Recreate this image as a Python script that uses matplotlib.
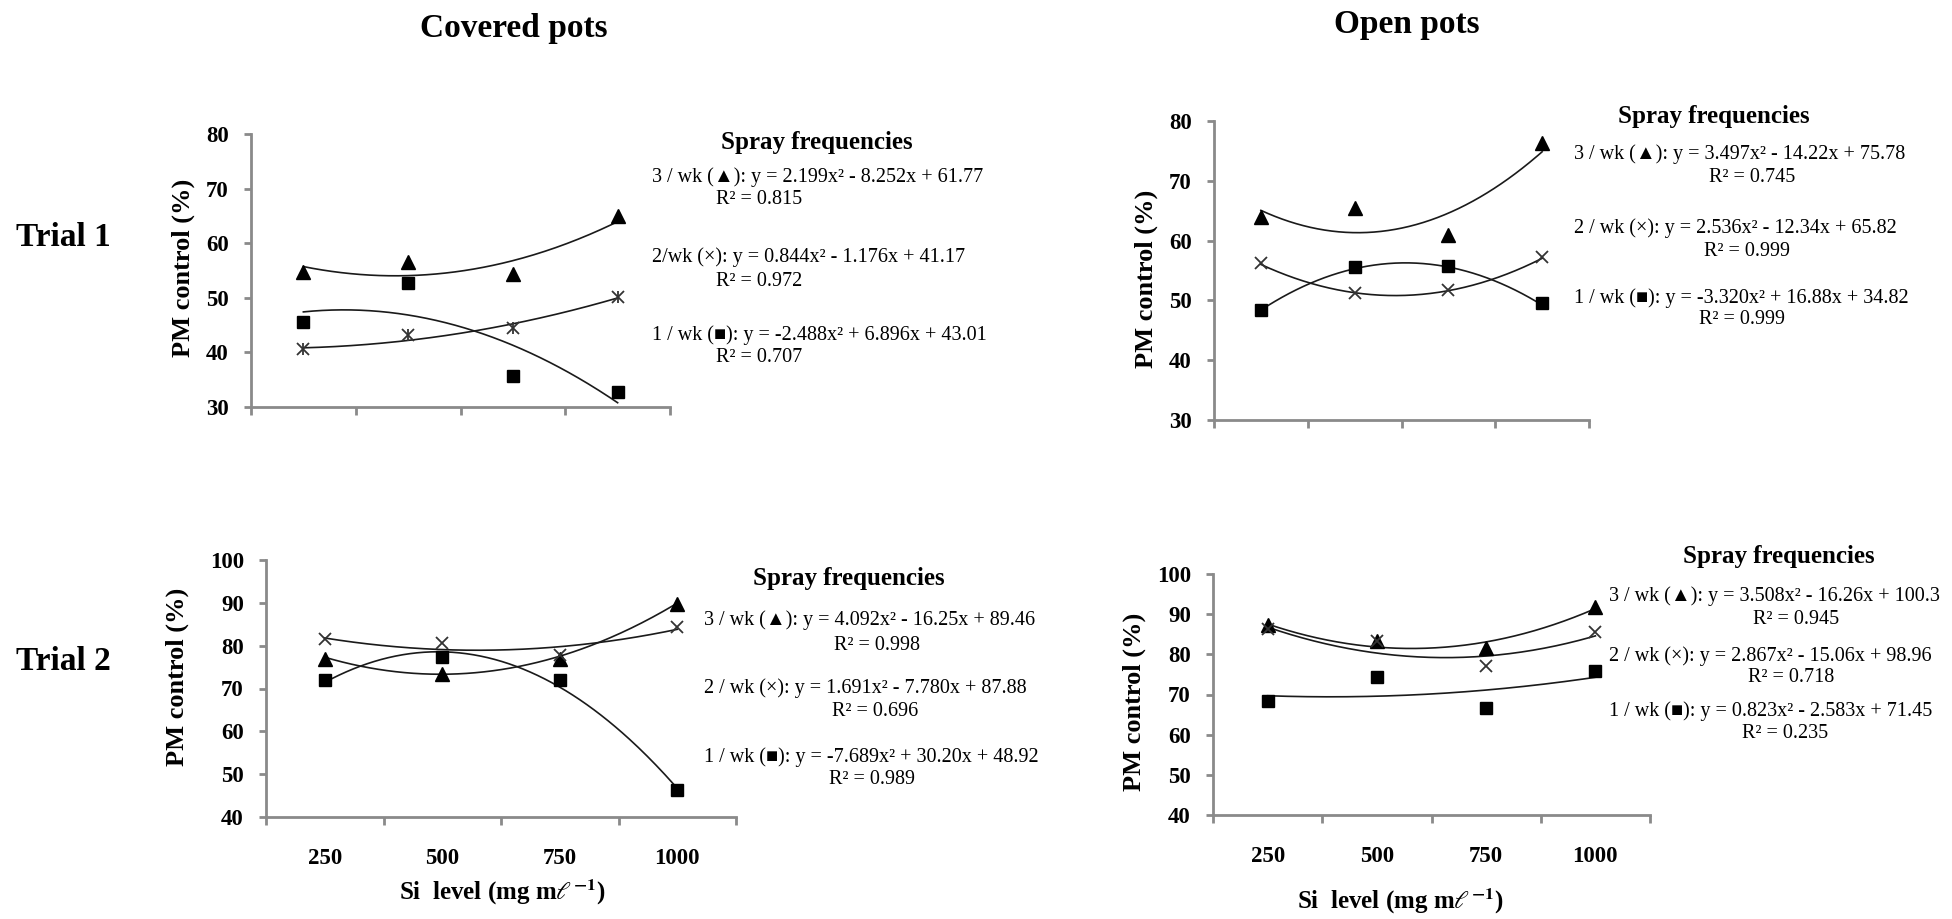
import numpy as np
import matplotlib.pyplot as plt

plt.rcParams['font.family'] = ['Liberation Serif', 'DejaVu Sans']
plt.rcParams['mathtext.fontset'] = 'stix'

W, H = 1952, 919

si_levels = ['250', '500', '750', '1000']
tags = ['3 / wk (▲)', '2 / wk (×)', '1 / wk (■)']
tags_cov1 = ['3 / wk (▲)', '2/wk (×)', '1 / wk (■)']

# PM control (%) per Si level; 3/wk, 2/wk, 1/wk
cov1_3wk = [54.8, 56.5, 54.4, 64.9]
cov1_2wk = [40.6, 43.2, 44.5, 50.2]
cov1_1wk = [45.6, 52.8, 35.6, 32.7]

open1_3wk = [64.0, 65.4, 60.9, 76.3]
open1_2wk = [56.2, 51.3, 51.8, 57.3]
open1_1wk = [48.4, 55.6, 55.7, 49.5]

cov2_3wk = [77.0, 73.5, 77.0, 89.7]
cov2_2wk = [81.5, 80.7, 77.8, 84.4]
cov2_1wk = [71.9, 77.4, 71.9, 46.3]

open2_3wk = [87.3, 83.2, 81.7, 91.8]
open2_2wk = [86.2, 83.3, 77.1, 85.6]
open2_1wk = [68.5, 74.4, 66.6, 75.9]

# quadratic trendlines y = a x^2 + b x + c, x = 1..4
cov1_fit = [[2.199, -8.252, 61.77], [0.844, -1.176, 41.17], [-2.488, 6.896, 43.01]]
cov1_r2 = [0.815, 0.972, 0.707]
open1_fit = [[3.497, -14.22, 75.78], [2.536, -12.34, 65.82], [-3.320, 16.88, 34.82]]
open1_r2 = [0.745, 0.999, 0.999]
cov2_fit = [[4.092, -16.25, 89.46], [1.691, -7.780, 87.88], [-7.689, 30.20, 48.92]]
cov2_r2 = [0.998, 0.696, 0.989]
open2_fit = [[3.508, -16.26, 100.3], [2.867, -15.06, 98.96], [0.823, -2.583, 71.45]]
open2_r2 = [0.945, 0.718, 0.235]

AXC = '#8a8a8a'

fig = plt.figure(figsize=(W / 100, H / 100), dpi=100)


def box(l, r, t, b):
    return [l / W, 1 - b / H, (r - l) / W, (b - t) / H]


def put(x, y, s, **kw):
    fig.text(x / W, 1 - y / H, s, **kw)


def fmt(v):
    v = abs(v)
    if v < 1:
        return f"{v:.3f}"
    return f"{v:#.4g}"


def equation(coef):
    a, b, c = coef
    sa = '-' if a < 0 else ''
    sb = '-' if b < 0 else '+'
    sc = '-' if c < 0 else '+'
    return f"y = {sa}{fmt(a)}x² {sb} {fmt(b)}x {sc} {fmt(c)}"


def panel(rect, ylim, series, fits, star=False, xlabels=False):
    ax = fig.add_axes(rect)
    xs = np.arange(1, 5)
    xf = np.linspace(1, 4, 200)
    for coef in fits:
        ax.plot(xf, np.polyval(coef, xf), color='#1a1a1a', lw=1.2, zorder=2)
    s3, s2, s1 = series
    ax.plot(xs, s3, ls='none', marker='^', ms=9.5, color='black', zorder=3)
    ax.plot(xs, s1, ls='none', marker='s', ms=9, color='black', zorder=3)
    ax.plot(xs, s2, ls='none', marker='x', ms=9, mew=1.3, color='#333333', zorder=3)
    if star:
        ax.plot(xs, s2, ls='none', marker='|', ms=9, mew=1.3, color='#333333', zorder=3)
    ax.set_xlim(0.5, 4.5)
    ax.set_ylim(*ylim)
    ax.set_xticks([0.5, 1.5, 2.5, 3.5, 4.5])
    ax.set_xticklabels([])
    ax.set_xticks(xs, minor=True)
    ax.set_xticklabels(si_levels if xlabels else [], minor=True,
                       fontsize=16.5, fontweight='bold')
    ax.tick_params(axis='x', which='major', length=6, width=2, color=AXC)
    ax.tick_params(axis='x', which='minor', length=0, pad=22)
    ax.set_yticks(np.arange(ylim[0], ylim[1] + 1, 10))
    ax.tick_params(axis='y', length=5, width=2, color=AXC, pad=11, labelsize=16.5)
    for lab in ax.get_yticklabels():
        lab.set_fontweight('bold')
    for side in ['top', 'right']:
        ax.spines[side].set_visible(False)
    for side in ['left', 'bottom']:
        ax.spines[side].set_color(AXC)
        ax.spines[side].set_linewidth(2)
    return ax


def notes(head, eq_x, eq_ys, r2_xs, r2_ys, labels, fits, r2s, r2_ha='center'):
    put(head[0], head[1], 'Spray frequencies', fontsize=18, fontweight='bold',
        ha='center', va='center')
    for i in range(3):
        put(eq_x, eq_ys[i], f"{labels[i]}: {equation(fits[i])}", fontsize=14.5,
            ha='left', va='center')
        put(r2_xs[i], r2_ys[i], f"R² = {r2s[i]:.3f}", fontsize=14.5,
            ha=r2_ha, va='center')


def ylabel(x, y):
    put(x, y, 'PM control (%)', fontsize=19, fontweight='bold', rotation=90,
        ha='center', va='center')


# Trial 1
panel(box(251, 670, 134, 407), (30, 80), [cov1_3wk, cov1_2wk, cov1_1wk], cov1_fit, star=True)
panel(box(1214, 1589, 121, 420), (30, 80), [open1_3wk, open1_2wk, open1_1wk], open1_fit)
# Trial 2
panel(box(266, 736, 560, 817), (40, 100), [cov2_3wk, cov2_2wk, cov2_1wk], cov2_fit, xlabels=True)
panel(box(1213, 1650, 574, 815), (40, 100), [open2_3wk, open2_2wk, open2_1wk], open2_fit, xlabels=True)

notes((817, 142), 652, [177, 257, 335], [716] * 3, [199, 281, 357],
      tags_cov1, cov1_fit, cov1_r2, r2_ha='left')
notes((1714, 116), 1574, [154, 228, 298], [1752, 1747, 1742], [177, 252, 320],
      tags, open1_fit, open1_r2)
notes((849, 579), 704, [620, 688, 757], [877, 875, 872], [646, 711, 780],
      tags, cov2_fit, cov2_r2)
notes((1779, 556), 1609, [596, 656, 711], [1796, 1791, 1785], [619, 678, 733],
      tags, open2_fit, open2_r2)

ylabel(183, 268)
ylabel(1146, 279)
ylabel(177, 677)
ylabel(1134, 702)

xlab = r"Si  level (mg m$\ell^{\mathbf{-1}}$)"
put(502, 892, xlab, fontsize=18, fontweight='bold', ha='center', va='center')
put(1400, 901, xlab, fontsize=18, fontweight='bold', ha='center', va='center')

put(514, 28, 'Covered pots', fontsize=24, fontweight='bold', ha='center', va='center')
put(1407, 24, 'Open pots', fontsize=24, fontweight='bold', ha='center', va='center')
put(16, 238, 'Trial 1', fontsize=24, fontweight='bold', ha='left', va='center')
put(16, 662, 'Trial 2', fontsize=24, fontweight='bold', ha='left', va='center')

fig.savefig('out.png', dpi=100)
